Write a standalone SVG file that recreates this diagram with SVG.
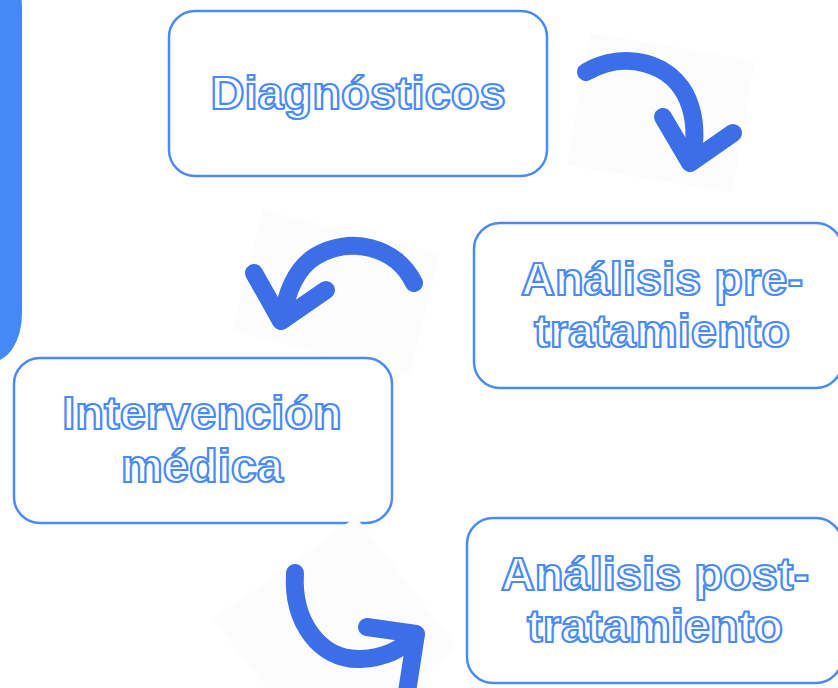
<svg xmlns="http://www.w3.org/2000/svg" width="838" height="688" viewBox="0 0 838 688">
<style>
.box{fill:#ffffff;stroke:#4a8af4;stroke-width:2.5}
.lbl{font-family:"Liberation Sans",Arial,sans-serif;font-weight:bold;font-size:47px;fill:#ffffff;stroke:#4a8af4;stroke-width:2.2;text-anchor:middle}
.arr{fill:none;stroke:#3c6fe7;stroke-width:18;stroke-linecap:round;stroke-linejoin:round}
.bg{fill:#fcfcfd}
</style>
<rect x="0" y="0" width="838" height="688" fill="#ffffff"/>
<g id="side-bar">
<rect x="-40" y="-40" width="62" height="402" rx="40" ry="48" fill="#4489f5"/>
</g>
<g id="arrow-backgrounds">
<polygon class="bg" points="590,33 755,61 732,193 567,165"/>
<polygon class="bg" points="263,210 440,254 410,375 233,331"/>
</g>
<g id="node-diagnosticos">
<rect class="box" x="169" y="11" width="378" height="165" rx="26"/>
<text class="lbl" x="358" y="109">Diagnósticos</text>
</g>
<g id="node-analisis-pre">
<rect class="box" x="474" y="223" width="368" height="165" rx="26"/>
<text class="lbl" x="662" y="295">Análisis pre-</text>
<text class="lbl" x="662" y="347">tratamiento</text>
</g>
<g id="node-intervencion">
<rect class="box" x="14" y="358" width="378" height="165" rx="26"/>
<text class="lbl" x="202" y="429">Intervención</text>
<text class="lbl" x="202" y="482">médica</text>
</g>
<g id="node-analisis-post">
<rect class="box" x="467" y="518" width="375" height="165" rx="26"/>
<text class="lbl" x="655" y="590">Análisis post-</text>
<text class="lbl" x="655" y="642">tratamiento</text>
</g>
<polygon class="bg" points="356,517 458,648 315,750 213,619"/>
<g id="connectors">
<path class="arr" d="M586,72 C625,50 672,62 688,100 C697,122 695,145 691,162"/>
<path class="arr" d="M663,117 L690,163 L733,133"/>
<path class="arr" d="M414,283 C396,246 350,236 316,256 C296,268 286,294 282,320"/>
<path class="arr" d="M254,273 L281,321 L326,290"/>
<path class="arr" d="M295,573 C292,622 320,660 360,659 C386,658 404,648 415,634"/>
<path class="arr" d="M367,627 L416,634 L407,692"/>
</g>
</svg>
